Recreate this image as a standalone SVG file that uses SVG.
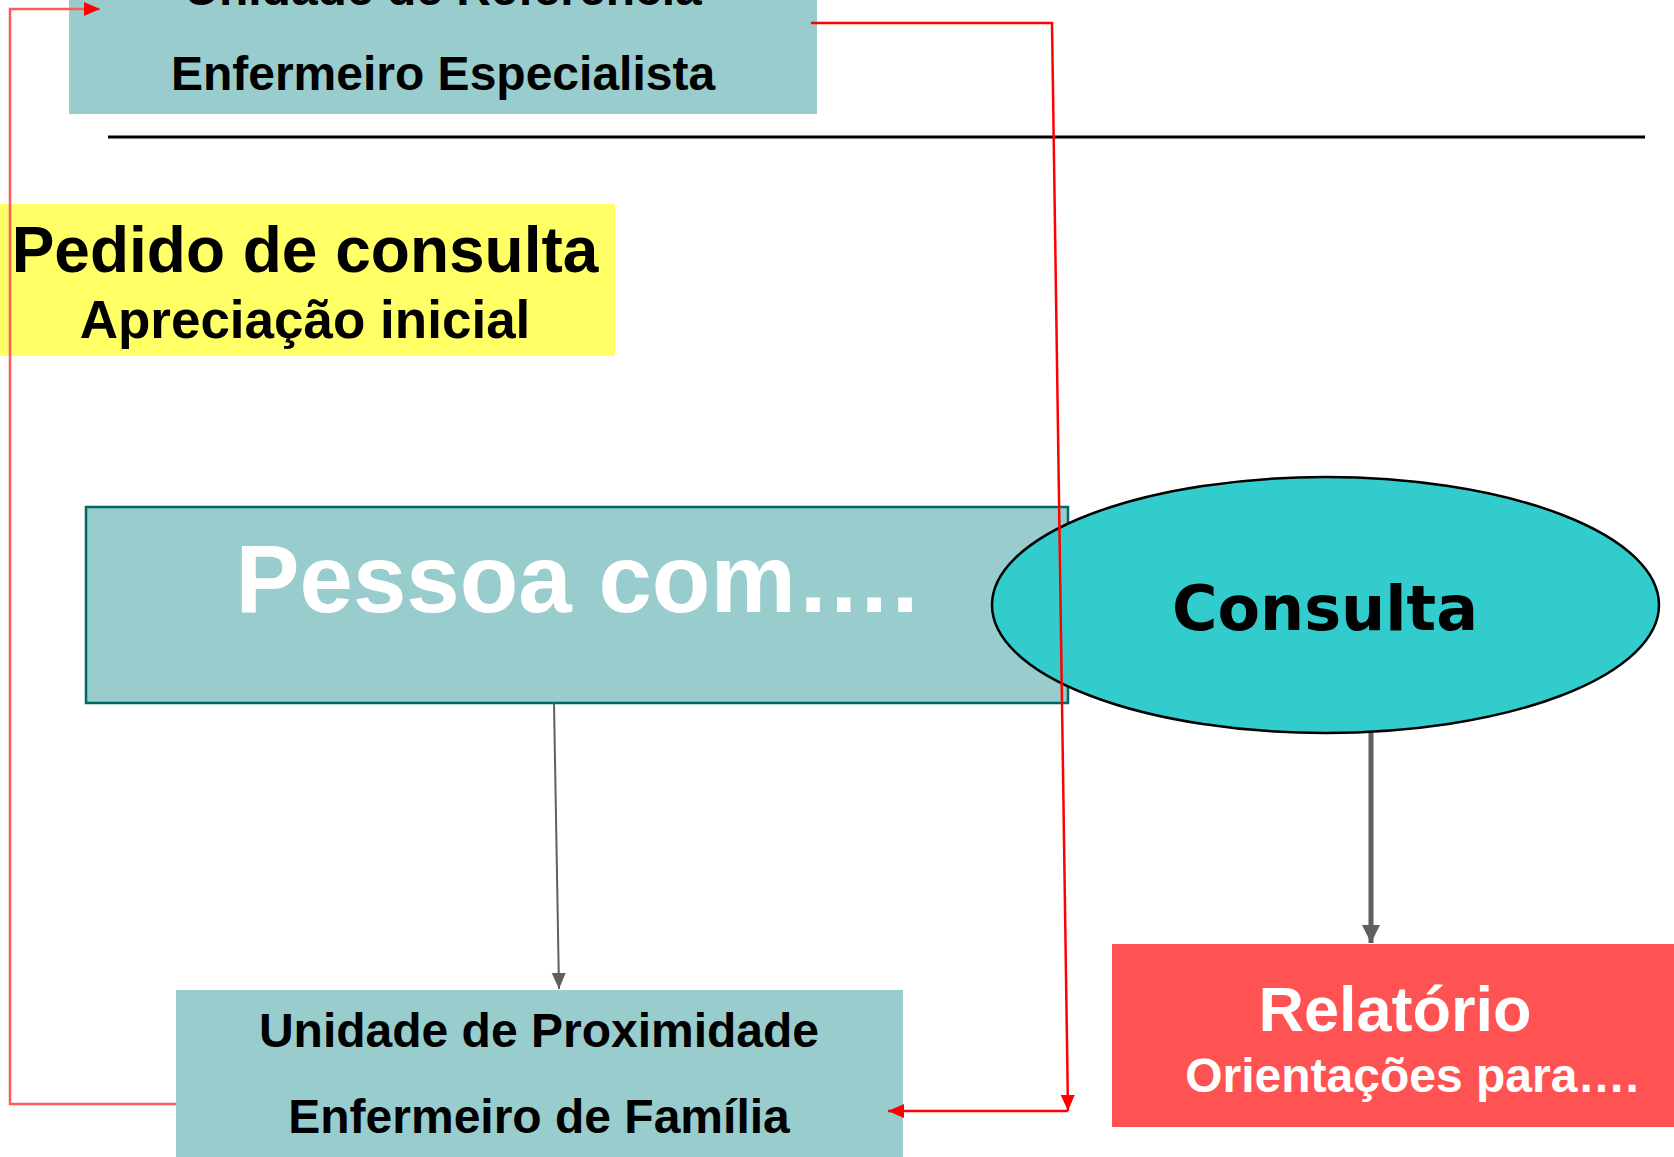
<svg xmlns="http://www.w3.org/2000/svg" width="1674" height="1157" viewBox="0 0 1674 1157">
<style>
.t{font-family:"Liberation Sans",Arial,sans-serif;font-weight:bold;text-anchor:middle}
.blk{fill:#000}
.wht{fill:#fff}
.box{fill:#99cccc}
.red{stroke:#ff0000;stroke-width:2.5;fill:none}
.redl{stroke:#ff5a5a;stroke-width:2.5;fill:none}
.gray{stroke:#5f5f5f;fill:none}
</style>
<defs>
<marker id="arR" markerUnits="userSpaceOnUse" markerWidth="18" markerHeight="16" refX="16" refY="7" orient="auto"><path d="M0,0 L16,7 L0,14 Z" fill="#ff0000"/></marker>
<marker id="arG" markerUnits="userSpaceOnUse" markerWidth="18" markerHeight="16" refX="16" refY="7" orient="auto"><path d="M0,0 L16,7 L0,14 Z" fill="#5f5f5f"/></marker>
<marker id="arGB" markerUnits="userSpaceOnUse" markerWidth="20" markerHeight="20" refX="18" refY="9" orient="auto"><path d="M0,0 L18,9 L0,18 Z" fill="#5f5f5f"/></marker>
</defs>
<rect width="1674" height="1157" fill="#fff"/>
<g id="node-referencia">
<rect class="box" x="69" y="-40" width="748" height="154"/>
<text class="t blk" x="443" y="5" font-size="48">Unidade de Referência</text>
<text class="t blk" x="443" y="90" font-size="48">Enfermeiro Especialista</text>
</g>
<g id="separator">
<line x1="108" y1="137" x2="1645" y2="137" stroke="#000" stroke-width="3"/>
</g>
<g id="node-pedido">
<rect x="0" y="204" width="615" height="152" fill="#ffff66"/>
<text class="t blk" x="305" y="272" font-size="64">Pedido de consulta</text>
<text class="t blk" x="305" y="338" font-size="53">Apreciação inicial</text>
</g>
<g id="node-pessoa">
<rect class="box" x="86" y="507" width="982" height="196" stroke="#006666" stroke-width="2.5"/>
<text class="t wht" x="577" y="612" font-size="96">Pessoa com….</text>
</g>
<g id="node-consulta">
<ellipse cx="1325.5" cy="605" rx="333.5" ry="128" fill="#33cccc" stroke="#000" stroke-width="2.5"/>
<text x="1325" y="630" font-family="'DejaVu Sans',Verdana,sans-serif" font-weight="bold" font-size="62" text-anchor="middle" fill="#000">Consulta</text>
</g>
<g id="node-proximidade">
<rect class="box" x="176" y="990" width="727" height="180"/>
<text class="t blk" x="539" y="1047" font-size="48">Unidade de Proximidade</text>
<text class="t blk" x="539" y="1133" font-size="48">Enfermeiro de Família</text>
</g>
<g id="node-relatorio">
<rect x="1112" y="944" width="570" height="183" fill="#ff5252"/>
<text class="t wht" x="1395" y="1031" font-size="63">Relatório</text>
<text class="t wht" x="1412" y="1092" font-size="48">Orientações para….</text>
</g>
<g id="connectors">
<line class="gray" x1="554" y1="703" x2="559" y2="989" stroke-width="2" marker-end="url(#arG)"/>
<line class="gray" x1="1371" y1="733" x2="1371" y2="943" stroke-width="5" marker-end="url(#arGB)"/>
<polyline class="red" points="811,23 1052,23 1068,1111" marker-end="url(#arR)"/>
<line class="red" x1="1068" y1="1111" x2="888" y2="1111" marker-end="url(#arR)"/>
<polyline class="redl" points="176,1104 10,1104 10,9 100,9" marker-end="url(#arR)"/>
</g>
</svg>
